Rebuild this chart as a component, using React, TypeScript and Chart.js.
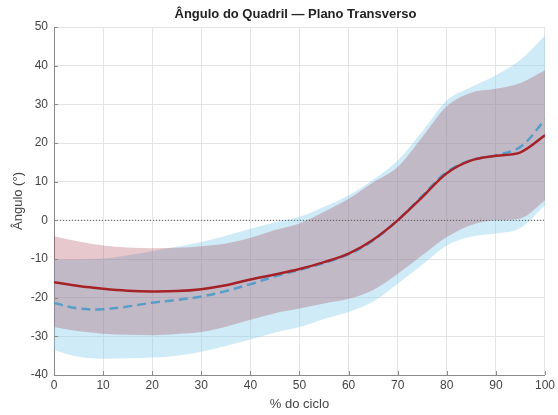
import React, { useEffect, useRef } from "react";
import { Chart, registerables } from "chart.js";

Chart.register(...registerables);

const cyclePct = [0, 5, 10, 15, 20, 25, 30, 35, 40, 45, 50, 55, 60, 65, 70, 75, 80, 85, 90, 95, 100];

const redMean = [-16, -17, -17.7, -18.2, -18.4, -18.3, -17.8, -16.8, -15.3, -14, -12.6, -10.8, -8.6, -5, 0, 6, 12.2, 15.5, 16.7, 17.6, 22];
const redUpper = [-4.1, -5.5, -6.5, -7, -7.2, -7.1, -6.7, -6, -4.5, -2.5, -0.8, 2.2, 5.6, 9.8, 13.8, 21.5, 29.5, 33, 34, 35.5, 38.8];
const redLower = [-27.6, -28.7, -29.3, -29.6, -29.7, -29.4, -28.9, -27.5, -25.7, -24, -22.8, -21.5, -20.3, -18, -13.8, -9, -4.3, -1.2, 0, 0.5, 5.2];

const blueMean = [-21.4, -22.8, -23, -22.3, -21.3, -20.6, -19.7, -18.3, -16.5, -14.5, -12.8, -11, -8.8, -5.2, 0, 6.3, 12.5, 15.6, 16.8, 19, 26];
const blueUpper = [-10.2, -10.2, -9.9, -9, -8, -6.8, -5.6, -4, -2.2, -0.5, 0.9, 3.5, 6.5, 10.5, 15.5, 23, 31, 34.5, 37.5, 41.5, 47.8];
const blueLower = [-33.6, -35.3, -35.8, -35.7, -35.5, -35, -34, -32.5, -30.8, -29, -27.6, -25.5, -23.7, -21, -16.4, -11.5, -6.5, -4.2, -3.4, -2, 3.9];

const zeroLineX = [0, 100];
const zeroLineY = [0, 0];

const xTicks = [0, 10, 20, 30, 40, 50, 60, 70, 80, 90, 100];
const yTicks = [-40, -30, -20, -10, 0, 10, 20, 30, 40, 50];

const titleText = "Ângulo do Quadril — Plano Transverso";
const xTitle = "% do ciclo";
const yTitle = "Ângulo (°)";

const pts = (ys: number[]) => ys.map((y, i) => ({ x: cyclePct[i], y }));

const FONT = "'Liberation Sans', Arial, sans-serif";

export default function App() {
  const ref = useRef<HTMLCanvasElement | null>(null);
  useEffect(() => {
    if (!ref.current) return;
    const textPlugin = {
      id: "texts",
      afterDraw(chart: any) {
        const ctx = chart.ctx;
        const area = chart.chartArea;
        const xs = chart.scales.x;
        const ys = chart.scales.y;
        ctx.save();
        ctx.strokeStyle = "#8a8a8a";
        ctx.lineWidth = 1;
        ctx.beginPath();
        xTicks.forEach((t) => {
          const px = Math.round(xs.getPixelForValue(t)) + 0.5;
          ctx.moveTo(px, area.bottom);
          ctx.lineTo(px, area.bottom - 4);
        });
        yTicks.forEach((t) => {
          const py = Math.round(ys.getPixelForValue(t)) + 0.5;
          ctx.moveTo(area.left, py);
          ctx.lineTo(area.left + 4, py);
        });
        ctx.stroke();
        const cx = (area.left + area.right) / 2;
        ctx.fillStyle = "#222";
        ctx.textAlign = "center";
        ctx.textBaseline = "middle";
        ctx.font = `bold 13px ${FONT}`;
        ctx.fillText(titleText, cx - 4, 14);
        ctx.fillStyle = "#444";
        ctx.font = `13px ${FONT}`;
        ctx.fillText(xTitle, cx, 404);
        ctx.translate(18, (area.top + area.bottom) / 2);
        ctx.rotate(-Math.PI / 2);
        ctx.fillText(yTitle, 0, 0);
        ctx.restore();
      },
    };
    const band = (ys: number[], fill: any, bg?: string) => ({
      data: pts(ys),
      borderWidth: 0,
      borderColor: "rgba(0,0,0,0)",
      backgroundColor: bg || "rgba(0,0,0,0)",
      fill,
      pointRadius: 0,
      cubicInterpolationMode: "monotone" as const,
    });
    const chart = new Chart(ref.current, {
      type: "line",
      data: {
        datasets: [
          band(redUpper, "+1", "rgba(155,35,55,0.25)"),
          band(redLower, false),
          band(blueUpper, "+1", "rgba(135,206,235,0.4)"),
          band(blueLower, false),
          {
            data: pts(redMean),
            borderColor: "rgb(165,35,40)",
            borderWidth: 2.5,
            fill: false,
            pointRadius: 0,
            tension: 0.35,
          },
          {
            data: pts(blueMean),
            borderColor: "rgb(88,158,200)",
            borderWidth: 2.5,
            borderDash: [9, 5],
            fill: false,
            pointRadius: 0,
            tension: 0.35,
          },
          {
            data: zeroLineX.map((x, i) => ({ x, y: zeroLineY[i] })),
            borderColor: "#555",
            borderWidth: 1,
            borderDash: [1, 2],
            fill: false,
            pointRadius: 0,
          },
        ],
      },
      options: {
        animation: false,
        responsive: false,
        layout: { padding: { top: 27, right: 10, left: 0, bottom: 0 } },
        plugins: {
          legend: { display: false },
          title: { display: false },
          tooltip: { enabled: false },
          filler: { drawTime: "beforeDatasetsDraw" },
        } as any,
        scales: {
          x: {
            type: "linear",
            min: 0,
            max: 100,
            afterFit: (s: any) => {
              s.height = 40;
            },
            afterBuildTicks: (s: any) => {
              s.ticks = xTicks.map((v) => ({ value: v }));
            },
            ticks: {
              padding: 3,
              color: "#444",
              font: { family: FONT, size: 12 },
              maxRotation: 0,
            },
            grid: { color: "#e4e4e4", drawTicks: false },
            border: { display: true, color: "#8a8a8a" },
          },
          y: {
            type: "linear",
            min: -40,
            max: 50,
            afterFit: (s: any) => {
              s.width = 54;
            },
            afterBuildTicks: (s: any) => {
              s.ticks = yTicks.map((v) => ({ value: v }));
            },
            ticks: {
              padding: 6,
              color: "#444",
              font: { family: FONT, size: 12 },
            },
            grid: { color: "#e4e4e4", drawTicks: false },
            border: { display: true, color: "#8a8a8a" },
          },
        },
      },
      plugins: [textPlugin],
    });
    return () => chart.destroy();
  }, []);
  return (
    <div style={{ position: "fixed", left: 0, top: 0, width: 558, height: 415, background: "#fff" }}>
      <canvas ref={ref} width={558} height={415} style={{ width: 558, height: 415 }} />
    </div>
  );
}
